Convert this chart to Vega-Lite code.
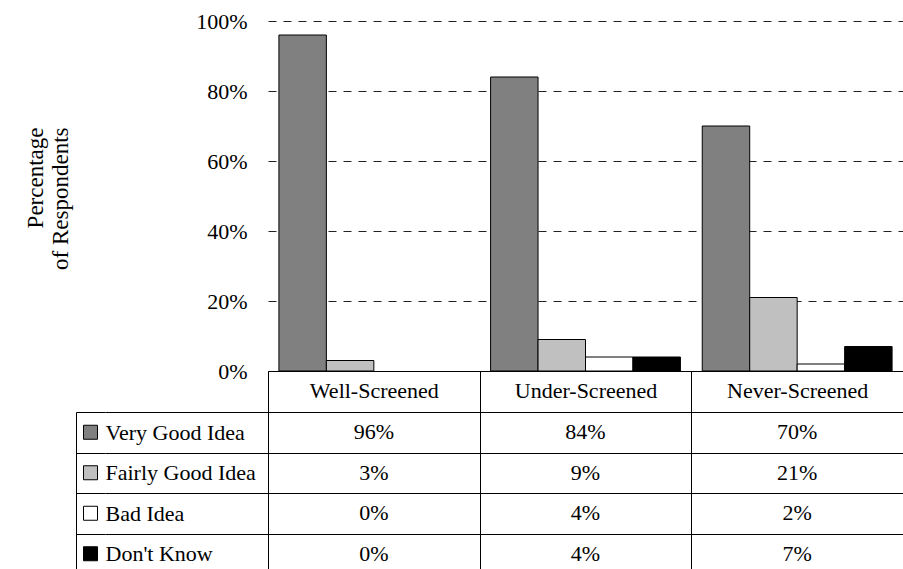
{
  "$schema": "https://vega.github.io/schema/vega-lite/v6.json",
  "padding": {"left": 23, "top": 10, "right": 0, "bottom": 0},
  "config": {
    "font": "Liberation Serif",
    "view": {"stroke": null},
    "style": {
      "guide-label": {"font": "Liberation Serif", "fontSize": 22, "fill": "#000"},
      "guide-title": {"font": "Liberation Serif", "fill": "#000"}
    },
    "axis": {
      "labelFont": "Liberation Serif",
      "titleFont": "Liberation Serif",
      "labelFontSize": 22,
      "labelColor": "#000",
      "titleColor": "#000",
      "titleFontWeight": "normal"
    }
  },
  "datasets": {
    "survey": [
      {"group": "Well-Screened", "answer": "Very Good Idea", "pct": 0.96},
      {"group": "Well-Screened", "answer": "Fairly Good Idea", "pct": 0.03},
      {"group": "Well-Screened", "answer": "Bad Idea", "pct": 0.0},
      {"group": "Well-Screened", "answer": "Don't Know", "pct": 0.0},
      {"group": "Under-Screened", "answer": "Very Good Idea", "pct": 0.84},
      {"group": "Under-Screened", "answer": "Fairly Good Idea", "pct": 0.09},
      {"group": "Under-Screened", "answer": "Bad Idea", "pct": 0.04},
      {"group": "Under-Screened", "answer": "Don't Know", "pct": 0.04},
      {"group": "Never-Screened", "answer": "Very Good Idea", "pct": 0.70},
      {"group": "Never-Screened", "answer": "Fairly Good Idea", "pct": 0.21},
      {"group": "Never-Screened", "answer": "Bad Idea", "pct": 0.02},
      {"group": "Never-Screened", "answer": "Don't Know", "pct": 0.07}
    ],
    "answers": [
      {"answer": "Very Good Idea"},
      {"answer": "Fairly Good Idea"},
      {"answer": "Bad Idea"},
      {"answer": "Don't Know"}
    ]
  },
  "columns": 2,
  "spacing": {"row": 41, "column": 163},
  "bounds": "flush",
  "resolve": {"scale": {"x": "independent", "y": "independent"}},
  "concat": [
    {
      "width": 29,
      "height": 350,
      "data": {"values": []},
      "mark": "point"
    },
    {
      "width": 635,
      "height": 350,
      "data": {"name": "survey"},
      "mark": {"type": "bar", "stroke": "#000", "strokeWidth": 1},
      "encoding": {
        "x": {
          "field": "group",
          "type": "nominal",
          "scale": {
            "type": "band",
            "domain": ["Well-Screened", "Under-Screened", "Never-Screened"],
            "paddingInner": 0,
            "paddingOuter": 0
          },
          "axis": {
            "title": null,
            "orient": "bottom",
            "labelFont": "Liberation Serif",
            "labelFontSize": 22,
            "labelColor": "#000",
            "labelAngle": 0,
            "labelBaseline": "middle",
            "labelPadding": -22,
            "labelLimit": 0,
            "domain": true,
            "domainColor": "#000",
            "domainWidth": 1,
            "ticks": true,
            "tickBand": "extent",
            "tickSize": 41,
            "tickColor": "#000",
            "tickWidth": 1,
            "grid": false
          }
        },
        "xOffset": {
          "field": "answer",
          "type": "nominal",
          "scale": {
            "domain": ["Very Good Idea", "Fairly Good Idea", "Bad Idea", "Don't Know"],
            "paddingInner": 0,
            "paddingOuter": 0.23
          }
        },
        "y": {
          "field": "pct",
          "type": "quantitative",
          "scale": {"domain": [0, 1]},
          "axis": {
            "values": [0, 0.2, 0.4, 0.6, 0.8, 1],
            "format": ".0%",
            "labelFont": "Liberation Serif",
            "labelFontSize": 22,
            "labelColor": "#000",
            "domain": false,
            "ticks": false,
            "labelPadding": 21,
            "grid": true,
            "gridColor": "#222",
            "gridDash": [8, 7],
            "gridWidth": 1,
            "title": ["Percentage", "of Respondents"],
            "titleFont": "Liberation Serif",
            "titleFontSize": 23,
            "titleAngle": -90,
            "titleAlign": "right",
            "titleBaseline": "alphabetic",
            "titleLineHeight": 25,
            "titleX": -226,
            "titleY": 106
          }
        },
        "fill": {
          "field": "answer",
          "type": "nominal",
          "scale": {
            "domain": ["Very Good Idea", "Fairly Good Idea", "Bad Idea", "Don't Know"],
            "range": ["#808080", "#c0c0c0", "#ffffff", "#000000"]
          },
          "legend": null
        },
        "strokeOpacity": {
          "condition": {"test": "datum.pct === 0", "value": 0},
          "value": 1
        }
      }
    },
    {
      "width": 29,
      "height": 162,
      "data": {"name": "answers"},
      "mark": {"type": "square", "size": 196, "stroke": "#000", "strokeWidth": 1, "opacity": 1},
      "encoding": {
        "y": {
          "field": "answer",
          "type": "nominal",
          "scale": {
            "type": "band",
            "domain": ["Very Good Idea", "Fairly Good Idea", "Bad Idea", "Don't Know"],
            "paddingInner": 0,
            "paddingOuter": 0
          },
          "axis": {
            "title": null,
            "labels": false,
            "ticks": false,
            "domain": true,
            "domainColor": "#000",
            "grid": true,
            "gridColor": "#000",
            "gridOpacity": 1,
            "tickBand": "extent"
          }
        },
        "fill": {
          "field": "answer",
          "type": "nominal",
          "scale": {
            "domain": ["Very Good Idea", "Fairly Good Idea", "Bad Idea", "Don't Know"],
            "range": ["#808080", "#c0c0c0", "#ffffff", "#000000"]
          },
          "legend": null
        }
      }
    },
    {
      "width": 635,
      "height": 162,
      "data": {"name": "survey"},
      "mark": {"type": "text", "font": "Liberation Serif", "fontSize": 22, "color": "#000"},
      "encoding": {
        "x": {
          "field": "group",
          "type": "nominal",
          "scale": {
            "type": "band",
            "domain": ["Well-Screened", "Under-Screened", "Never-Screened"],
            "paddingInner": 0,
            "paddingOuter": 0
          },
          "axis": {
            "title": null,
            "labels": false,
            "ticks": false,
            "domain": false,
            "grid": true,
            "gridColor": "#000",
            "gridOpacity": 1,
            "tickBand": "extent"
          }
        },
        "y": {
          "field": "answer",
          "type": "nominal",
          "scale": {
            "type": "band",
            "domain": ["Very Good Idea", "Fairly Good Idea", "Bad Idea", "Don't Know"],
            "paddingInner": 0,
            "paddingOuter": 0
          },
          "axis": {
            "title": null,
            "domain": true,
            "domainColor": "#000",
            "ticks": true,
            "tickSize": 163,
            "tickColor": "#000",
            "tickBand": "extent",
            "labelFont": "Liberation Serif",
            "labelFontSize": 22,
            "labelColor": "#000",
            "labelAlign": "left",
            "labelPadding": 0,
            "labelLimit": 0,
            "grid": true,
            "gridColor": "#000",
            "gridOpacity": 1
          }
        },
        "text": {"field": "pct", "type": "quantitative", "format": ".0%"}
      }
    }
  ]
}
